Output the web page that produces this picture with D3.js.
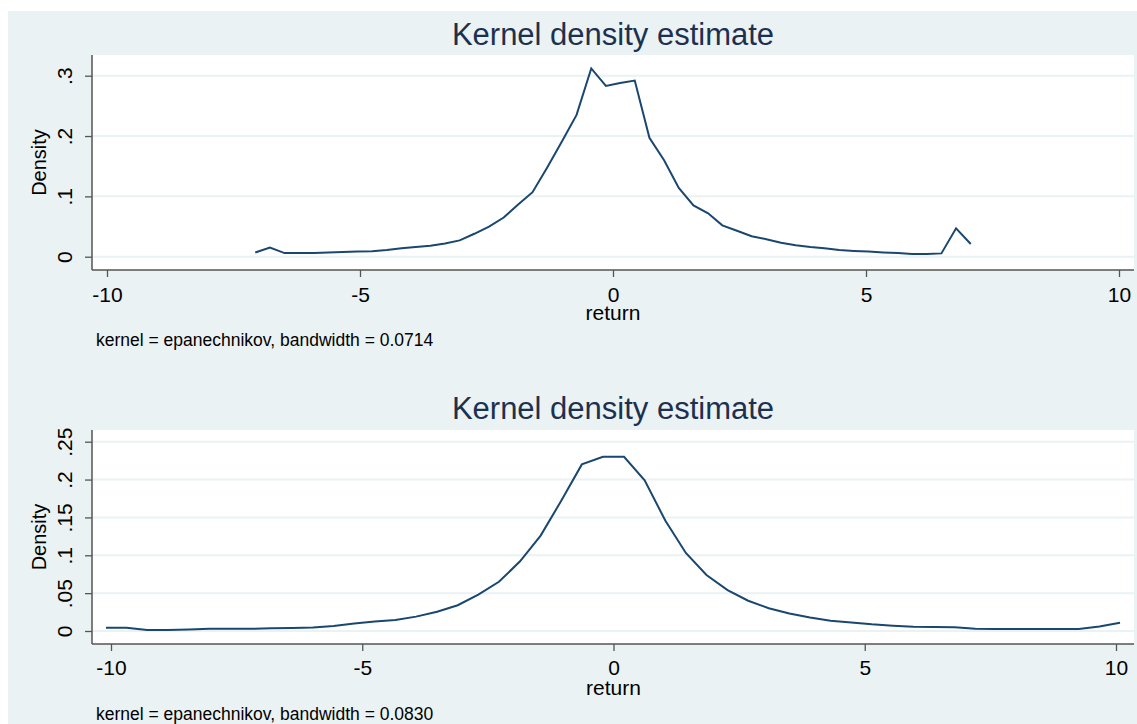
<html>
<head>
<script src="https://d3js.org/d3.v7.min.js"></script>
<style>
body { margin: 0; background: white; }
text { font-family: "Liberation Sans", Arial, sans-serif; }
</style>
</head>
<body>
<svg width="1137" height="724"></svg>
<script>
// data
var topX = [-7.07, -6.78, -6.49, -6.20, -5.91, -5.63, -5.34, -5.05, -4.76, -4.47,
            -4.18, -3.90, -3.61, -3.32, -3.03, -2.74, -2.45, -2.16, -1.88, -1.59,
            -1.30, -1.01, -0.72, -0.43, -0.14, 0.14, 0.43, 0.72, 1.01, 1.30,
            1.59, 1.88, 2.16, 2.45, 2.74, 3.03, 3.32, 3.61, 3.90, 4.18,
            4.47, 4.76, 5.05, 5.34, 5.63, 5.91, 6.20, 6.49, 6.78, 7.07];
var topY = [0.007, 0.015, 0.006, 0.006, 0.006, 0.007, 0.0078, 0.0085, 0.009, 0.011,
            0.014, 0.016, 0.018, 0.022, 0.027, 0.038, 0.050, 0.065, 0.086, 0.107,
            0.148, 0.191, 0.235, 0.312, 0.283, 0.288, 0.292, 0.197, 0.160, 0.114,
            0.085, 0.072, 0.052, 0.043, 0.034, 0.029, 0.023, 0.019, 0.016, 0.014,
            0.011, 0.0095, 0.0085, 0.0070, 0.0060, 0.0045, 0.0045, 0.0055, 0.047, 0.021];

var botX = [-10.10, -9.69, -9.28, -8.87, -8.45, -8.04, -7.63, -7.22, -6.81, -6.39,
            -5.98, -5.57, -5.16, -4.75, -4.34, -3.93, -3.51, -3.10, -2.69, -2.28,
            -1.86, -1.45, -1.04, -0.63, -0.21, 0.21, 0.62, 1.03, 1.44, 1.85,
            2.27, 2.68, 3.09, 3.50, 3.91, 4.32, 4.73, 5.14, 5.56, 5.97,
            6.38, 6.79, 7.20, 7.61, 8.03, 8.44, 8.85, 9.26, 9.67, 10.08];
var botY = [0.0043, 0.0043, 0.0013, 0.0013, 0.0020, 0.003, 0.003, 0.003, 0.0035, 0.004,
            0.0045, 0.0065, 0.0098, 0.0125, 0.0145, 0.019, 0.0255, 0.034, 0.048, 0.065,
            0.092, 0.126, 0.172, 0.220, 0.230, 0.230, 0.199, 0.146, 0.103, 0.074,
            0.054, 0.040, 0.030, 0.023, 0.0178, 0.0135, 0.0112, 0.0088, 0.0070, 0.0055,
            0.0052, 0.0050, 0.0030, 0.0026, 0.0026, 0.0026, 0.0026, 0.0026, 0.0060, 0.0109];

var xTicks = [-10, -5, 0, 5, 10];
var topYTicks = [0, 0.1, 0.2, 0.3];
var botYTicks = [0, 0.05, 0.1, 0.15, 0.2, 0.25];
var topNote = "kernel = epanechnikov, bandwidth = 0.0714";
var botNote = "kernel = epanechnikov, bandwidth = 0.0830";

var bg = "#eaf2f3", navy = "#1a476f";
var svg = d3.select("svg");

svg.append("rect").attr("x", 8).attr("y", 11).attr("width", 1129).attr("height", 713).attr("fill", bg);

function fmtY(d) { return d === 0 ? "0" : String(d).replace(/^0/, ""); }

function panel(p) {
  var x = d3.scaleLinear().domain([-10, 10]).range(p.xr);
  var y = d3.scaleLinear().domain([0, p.yMax]).range(p.yr);
  var g = svg.append("g");

  g.append("rect").attr("x", p.left).attr("y", p.top)
    .attr("width", p.right - p.left).attr("height", p.bottom - p.top).attr("fill", "white");

  // grid
  g.selectAll(".grid").data(p.yTicks).enter().append("line")
    .attr("x1", p.left).attr("x2", p.right)
    .attr("y1", function(d) { return y(d); }).attr("y2", function(d) { return y(d); })
    .attr("stroke", bg).attr("stroke-width", 2);

  // y axis
  var ya = g.append("g").attr("transform", "translate(" + p.left + ",0)")
    .call(d3.axisLeft(y).tickValues(p.yTicks).tickFormat(fmtY).tickSize(7));
  ya.select(".domain").remove();
  ya.selectAll("line").attr("stroke", "#555").attr("stroke-width", 1.3);
  ya.selectAll("text").attr("transform", "rotate(-90)")
    .attr("x", 0).attr("y", -20).attr("dy", 0)
    .style("text-anchor", "middle").style("font-size", "21px").attr("fill", "black");

  // x axis
  var xa = g.append("g").attr("transform", "translate(0," + p.bottom + ")")
    .call(d3.axisBottom(x).tickValues(xTicks).tickFormat(function(d) { return String(d); }).tickSize(7));
  xa.select(".domain").remove();
  xa.selectAll("line").attr("stroke", "#555").attr("stroke-width", 1.3);
  xa.selectAll("text").attr("y", p.tickBase - p.bottom).attr("dy", 0)
    .style("font-size", "21px").attr("fill", "black");

  g.append("line").attr("x1", p.left).attr("x2", p.left).attr("y1", p.top).attr("y2", p.bottom)
    .attr("stroke", "#555").attr("stroke-width", 1.5);
  g.append("line").attr("x1", p.left).attr("x2", p.right).attr("y1", p.bottom).attr("y2", p.bottom)
    .attr("stroke", "#555").attr("stroke-width", 1.5);

  // curve
  var line = d3.line().x(function(d) { return x(d[0]); }).y(function(d) { return y(d[1]); });
  g.append("path").datum(d3.zip(p.xs, p.ys)).attr("d", line)
    .attr("fill", "none").attr("stroke", navy).attr("stroke-width", 2).attr("stroke-linejoin", "miter");

  // labels
  g.append("text").attr("x", (p.left + p.right) / 2).attr("y", p.titleBase)
    .style("text-anchor", "middle").style("font-size", "31px").attr("fill", "#1c3150")
    .text("Kernel density estimate");
  g.append("text").attr("x", x(0)).attr("y", p.xTitleBase)
    .style("text-anchor", "middle").style("font-size", "21px").attr("fill", "black").text("return");
  g.append("text").attr("transform", "translate(46," + (p.top + p.bottom) / 2 + ") rotate(-90)")
    .style("text-anchor", "middle").style("font-size", "20px").attr("fill", "black").text("Density");
  g.append("text").attr("x", 96).attr("y", p.noteBase)
    .style("font-size", "17.5px").attr("fill", "black").text(p.note);
}

panel({left: 92, right: 1134, top: 55, bottom: 270, xr: [107, 1119], yr: [256.7, 75.7], yMax: 0.3,
       yTicks: topYTicks, xs: topX, ys: topY, titleBase: 45, tickBase: 302, xTitleBase: 320,
       noteBase: 346, note: topNote});
panel({left: 92, right: 1134, top: 430, bottom: 644, xr: [111, 1116], yr: [631, 441.7], yMax: 0.25,
       yTicks: botYTicks, xs: botX, ys: botY, titleBase: 419, tickBase: 675, xTitleBase: 695,
       noteBase: 720, note: botNote});
</script>
</body>
</html>
